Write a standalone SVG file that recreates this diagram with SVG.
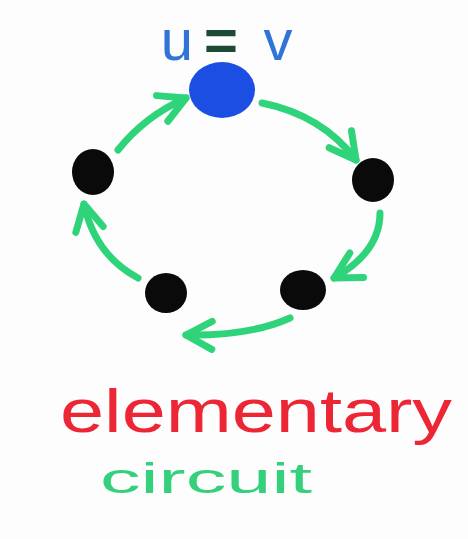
<svg xmlns="http://www.w3.org/2000/svg" width="468" height="539" viewBox="0 0 468 539">
<style>
.node{fill:#0a0a0a}
.conn{fill:none;stroke:#2fd37a;stroke-width:7;stroke-linecap:round;stroke-linejoin:round}
.lbl{font-family:"Liberation Sans","DejaVu Sans",sans-serif}
</style>
<defs>
<marker id="head" viewBox="0 0 36 36" refX="32" refY="18" markerWidth="36" markerHeight="36" markerUnits="userSpaceOnUse" orient="auto">
<path d="M6,4 L32,18 L6,32" fill="none" stroke="#2fd37a" stroke-width="7" stroke-linecap="round" stroke-linejoin="round"/>
</marker>
</defs>
<rect width="468" height="539" fill="#fdfdfd"/>
<g id="connectors">
<path class="conn" d="M118,150 Q145,116 186,98" marker-end="url(#head)"/>
<path class="conn" d="M262,103 Q322,115 356,160" marker-end="url(#head)"/>
<path class="conn" d="M380,213 Q380,252 334,278" marker-end="url(#head)"/>
<path class="conn" d="M290,318 Q250,336 186,335" marker-end="url(#head)"/>
<path class="conn" d="M138,278 Q95,255 84,204" marker-end="url(#head)"/>
</g>
<g id="node-uv">
<ellipse cx="222" cy="90" rx="33" ry="28" fill="#1b4fe3"/>
<text class="lbl" y="60" font-size="58"><tspan x="177" text-anchor="middle" fill="#2f74d6">u</tspan><tspan x="221" text-anchor="middle" fill="#1c4a35" font-weight="bold">=</tspan><tspan x="278" text-anchor="middle" fill="#2f74d6">v</tspan></text>
</g>
<g id="node-left"><ellipse class="node" cx="93" cy="172" rx="21" ry="23"/></g>
<g id="node-right"><ellipse class="node" cx="373" cy="180" rx="21" ry="22"/></g>
<g id="node-bottom-right"><ellipse class="node" cx="303" cy="290" rx="23" ry="20"/></g>
<g id="node-bottom-left"><ellipse class="node" cx="166" cy="293" rx="21" ry="20"/></g>
<text class="lbl" x="60" y="432" font-size="62" fill="#ec2634" textLength="392" lengthAdjust="spacingAndGlyphs">elementary</text>
<text class="lbl" x="100" y="493" font-size="42" fill="#35d07c" textLength="212" lengthAdjust="spacingAndGlyphs">circuit</text>
</svg>
